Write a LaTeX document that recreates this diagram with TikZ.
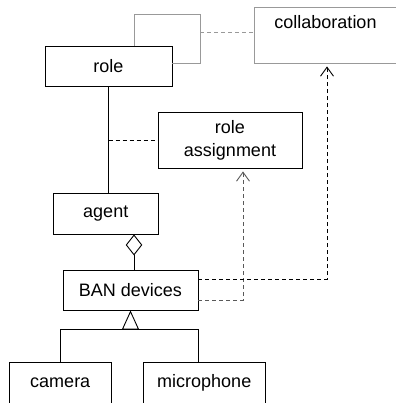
\documentclass[tikz,border=0pt]{standalone}
\usepackage{fontspec}
\setmainfont{Liberation Sans}
\usetikzlibrary{arrows.meta,calc}

\tikzset{
  umlbox/.style={draw, line width=0.9pt, rectangle, inner sep=0pt, align=center,
    font=\fontsize{18}{23}\selectfont},
  umlline/.style={draw, line width=0.9pt},
  depline/.style={umlline, dash pattern=on 4pt off 3pt},
  openhead/.style={-{Straight Barb[length=9pt,width=13pt,line width=0.9pt]}, shorten >=3pt},
  faint/.style={draw=black!40},
}

\begin{document}
\begin{tikzpicture}[x=1pt, y=-1pt]
\useasboundingbox (0,0) rectangle (395,403);

% classes
\node[umlbox, minimum width=127pt, minimum height=40pt] (role) at (108.5,66) {role};
\node[umlbox, faint, minimum width=143pt, minimum height=56pt,
      inner sep=4pt, text height=18pt, text depth=30pt] (collab) at (325.5,35) {collaboration};
\node[umlbox, minimum width=144pt, minimum height=56pt] (assign) at (230,140) {role\\assignment};
\node[umlbox, minimum width=104.5pt, minimum height=41pt] (agent) at (105.75,213.5) {agent};
\node[umlbox, minimum width=135pt, minimum height=40pt] (ban) at (130.5,290) {BAN devices};
\node[umlbox, minimum width=102.5pt, minimum height=41pt] (camera) at (60.25,382.5) {camera};
\node[umlbox, minimum width=122.5pt, minimum height=41pt] (mic) at (204.25,382.5) {microphone};

% helper positions
\coordinate (loopL) at (134,14);
\coordinate (loopR) at (200,14);
\coordinate (loopE) at (200,63);
\coordinate (loopMid) at (200,32);
\coordinate (aggx) at (134,0);
\coordinate (bus) at (0,329);
\coordinate (assignIn) at (243,0);
\coordinate (collabIn) at (327,0);

% reflexive association on role
\draw[umlline, faint] (role.north -| loopL) -- (loopL) -- (loopR) -- (loopE) -- (role.east |- loopE);
\draw[depline, faint] (loopMid) -- (collab.west |- loopMid);

% role -- agent with assignment class
\draw[umlline] (role.south) -- (role.south |- agent.north);
\draw[depline] (role.south |- assign.west) -- (assign.west);

% aggregation agent <>-- BAN devices
\draw[umlline, {Diamond[open, length=21pt, width=16.5pt, line width=0.9pt]}-]
  (agent.south -| aggx) -- (ban.north -| aggx);

% generalization
\draw[umlline] (camera.north) |- (camera.north |- bus) -- (ban.south east |- bus) -- (ban.south east |- mic.north);
\draw[umlline, -{Triangle[open, length=19pt, width=17pt, line width=0.9pt]}]
  (ban.south |- bus) -- (ban.south);

% dependencies from BAN devices
\draw[depline, draw=black!65, openhead]
  ([yshift=-10pt]ban.east) -| (assignIn |- assign.south);
\draw[depline, openhead]
  ([yshift=10.5pt]ban.east) -| (collabIn |- collab.south);
\end{tikzpicture}
\end{document}
